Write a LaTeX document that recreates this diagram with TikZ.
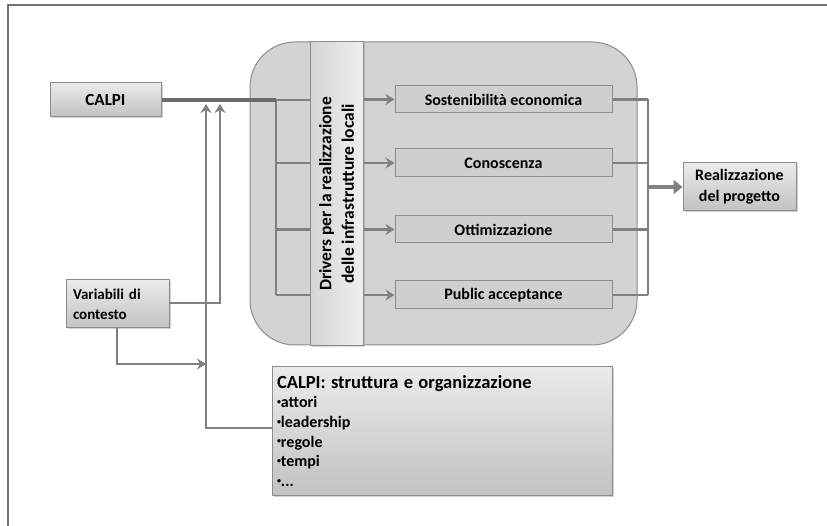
\documentclass[tikz,border=0pt]{standalone}
\usepackage{fontspec}
\setmainfont{Carlito}
\usetikzlibrary{arrows.meta,shadows,calc}
\definecolor{ln}{HTML}{808080}
\definecolor{bd}{HTML}{8C8C8C}
\definecolor{bigfill}{HTML}{D3D3D3}
\tikzset{
  gbox/.style={draw=bd, line width=1pt, top color=white!92!black, bottom color=black!24,
    drop shadow={shadow xshift=1.5pt, shadow yshift=-1.5pt, opacity=0.35},
    font=\bfseries\fontsize{15}{18}\selectfont, inner sep=3pt},
  drv/.style={draw=bd, line width=1pt, fill=black!19,
    font=\bfseries\fontsize{16}{18}\selectfont, minimum width=217pt, inner sep=0pt},
  conn/.style={draw=ln, line width=2.6pt},
  arr/.style={conn, -{Stealth[length=9pt,width=11pt,inset=3pt]}},
  bigarr/.style={draw=ln, line width=4.5pt, -{Triangle[length=9pt,width=14pt]}},
}
\begin{document}
\begin{tikzpicture}[x=1pt,y=-1pt]
\useasboundingbox (0,0) rectangle (827,526);
% outer frame (cropped)
\draw[draw=ln!90!black, line width=1.5pt] (8,530) -- (8,5) -- (830,5);
% big rounded container
\node[draw=bd, line width=1pt, fill=bigfill, rounded corners=45pt,
      minimum width=387pt, minimum height=303pt, inner sep=0pt] (cont) at (443.5,193.5) {};
% drivers bar
\node[draw=bd, line width=1pt, left color=black!17, right color=black!6,
      minimum width=53pt, minimum height=304pt, inner sep=0pt,
      drop shadow={shadow xshift=1.5pt, shadow yshift=-1.5pt, opacity=0.3}] (bar) at (336.5,194) {};
\node[rotate=90, align=center, font=\bfseries\fontsize{17.5}{22.5}\selectfont] (bartxt) at (bar.center)
  {Drivers per la realizzazione\\delle infrastrutture locali};
% driver boxes
\node[drv, minimum height=27pt] (sost) at (503.5,99.5) {Sostenibilità economica};
\node[drv, minimum height=28pt] (con) at (503.5,163) {Conoscenza};
\node[drv, minimum height=27pt] (ott) at (503.5,229.5) {Ottimizzazione};
\node[drv, minimum height=28pt] (pub) at (503.5,295) {Public acceptance};
% other boxes
\node[gbox, minimum width=111pt, minimum height=34pt, font=\bfseries\fontsize{17}{20}\selectfont] (calpi) at (105.5,100) {CALPI};
\node[gbox, minimum width=103pt, minimum height=48pt, align=left, text width=89pt,
      font=\bfseries\fontsize{15}{20}\selectfont] (var) at (117.5,304) {Variabili di\\contesto};
\node[gbox, minimum width=113pt, minimum height=48pt, align=center,
      font=\bfseries\fontsize{16}{21}\selectfont] (real) at (739.5,187) {Realizzazione\\del progetto};
\node[gbox, minimum width=340pt, minimum height=128pt, align=left, text width=330pt,
      font=\bfseries\fontsize{16}{19.7}\selectfont] (str) at (442,431)
  {{\fontsize{18.5}{20}\selectfont\mdseries\textbf{CALPI:} \textbf{struttura e organizzazione}}\\
   {\fontsize{8}{8}\selectfont\raisebox{3.5pt}{•}}attori\\
   {\fontsize{8}{8}\selectfont\raisebox{3.5pt}{•}}leadership\\
   {\fontsize{8}{8}\selectfont\raisebox{3.5pt}{•}}regole\\
   {\fontsize{8}{8}\selectfont\raisebox{3.5pt}{•}}tempi\\
   {\fontsize{8}{8}\selectfont\raisebox{3.5pt}{•}}...};
% left bus
\coordinate (bt) at (276,100);
\coordinate (bb) at (276,295);
\draw[conn] (bt) -- (bar.west |- bt);
\draw[conn] (bt) -- (bb);
\draw[conn] (bb) -- (bar.west |- bb);
\draw[conn] (276,163) -- (bar.west |- con);
\draw[conn] (276,229.5) -- (bar.west |- ott);
\draw[draw=black!58, line width=3.2pt] (calpi.east) -- (bt);
% arrows from bar to drivers
\foreach \n in {sost,con,ott,pub}{\draw[arr] (bar.east |- \n.west) -- (\n.west);}
% right bus
\coordinate (rt) at (648,99.5);
\coordinate (rb) at (648,295);
\coordinate (rm) at (648,187);
\foreach \n in {sost,con,ott,pub}{\draw[conn] (\n.east) -- (rt |- \n.east);}
\draw[conn] (rt) -- (rb);
\draw[bigarr] (rm) -- (real.west);
% context arrows
\coordinate (up1) at (206,104);
\coordinate (up2) at (220,104);
\draw[arr] (var.east |- 0,303) -| (up2);
\draw[arr] (str.west |- 0,428) -| (up1);
\coordinate (vd) at (117,364);
\draw[arr] (var.south -| vd) -- (vd) -- (206,364);
\end{tikzpicture}
\end{document}
